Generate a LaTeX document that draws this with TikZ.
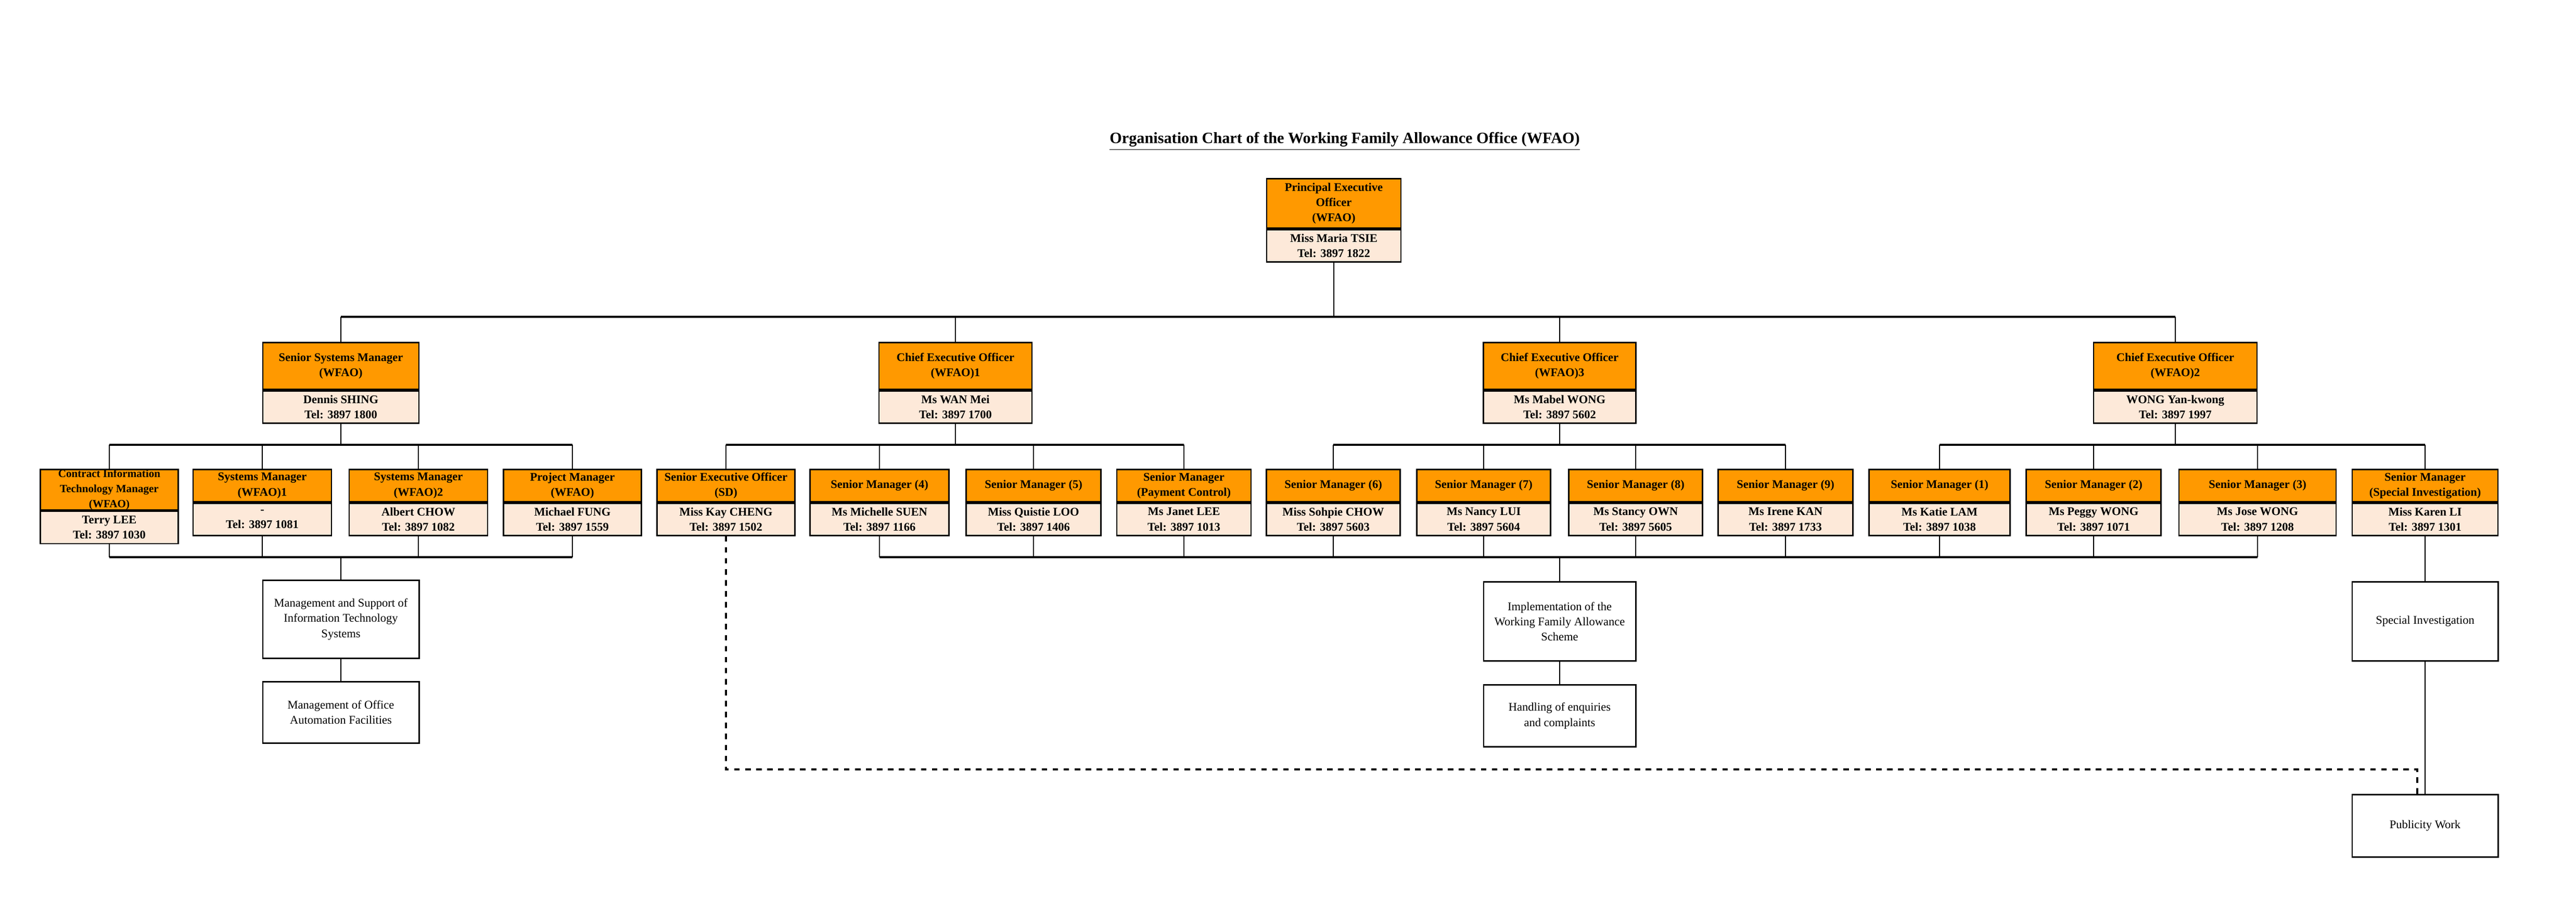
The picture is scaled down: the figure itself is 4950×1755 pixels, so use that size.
\documentclass[tikz,border=0pt]{standalone}
\usepackage{fontspec}
\setmainfont{Liberation Serif}
\usepackage{tikz}
\usetikzlibrary{positioning}

\definecolor{headorange}{RGB}{255,153,0}
\definecolor{bodypeach}{RGB}{253,233,217}

\tikzset{
  head/.style={draw, line width=0.8pt, fill=headorange, inner sep=0pt, align=center,
    font=\bfseries\fontsize{6.4}{8.3}\selectfont},
  body/.style={draw, line width=0.8pt, fill=bodypeach, inner sep=0pt, align=center,
    font=\bfseries\fontsize{6.4}{8.3}\selectfont, minimum height=0.62cm},
  task/.style={draw, line width=0.8pt, fill=white, inner sep=0pt, align=center,
    font=\fontsize{6.4}{8.3}\selectfont},
  link/.style={line width=0.4pt},
  bus/.style={line width=0.9pt},
}

% name, x, y of top, width, head height, title, person
\newcommand\post[7]{%
  \node[head, minimum width=#4*0.01cm, minimum height=#5*0.01cm, anchor=north] (#1) at (#2,#3) {#6};
  \node[body, minimum width=#4*0.01cm, anchor=north] (#1-p) at (#1.south) {#7};
}

\begin{document}
\begin{tikzpicture}[x=0.01cm, y=-0.01cm]
  \useasboundingbox (0,0) rectangle (4950,1755);

  \node[font=\bfseries\fontsize{8.6}{10}\selectfont] (title) at (2584,272)
    {\underline{Organisation Chart of the Working Family Allowance Office (WFAO)}};

  % top
  \post{peo}{2563}{342}{258}{95}{Principal Executive\\Officer\\(WFAO)}{Miss Maria TSIE\\Tel: 3897 1822}

  % second level
  \post{ssm}{655}{657}{300}{90}{Senior Systems Manager\\(WFAO)}{Dennis SHING\\Tel: 3897 1800}
  \post{ceoa}{1836}{657}{294}{90}{Chief Executive Officer\\(WFAO)1}{Ms WAN Mei\\Tel: 3897 1700}
  \post{ceoc}{2997}{657}{293}{90}{Chief Executive Officer\\(WFAO)3}{Ms Mabel WONG\\Tel: 3897 5602}
  \post{ceob}{4180}{657}{314}{90}{Chief Executive Officer\\(WFAO)2}{WONG Yan-kwong\\Tel: 3897 1997}

  % third level
  \post{citm}{210}{901}{265}{62}{\fontsize{6}{6.3}\selectfont Contract Information\\\fontsize{6}{6.3}\selectfont Technology Manager\\\fontsize{6}{6.3}\selectfont (WFAO)}{Terry LEE\\Tel: 3897 1030}
  \post{sysa}{504}{901}{266}{62}{Systems Manager\\(WFAO)1}{-\\Tel: 3897 1081}
  \post{sysb}{804}{901}{266}{62}{Systems Manager\\(WFAO)2}{Albert CHOW\\Tel: 3897 1082}
  \post{pm}{1100}{901}{265}{62}{Project Manager\\(WFAO)}{Michael FUNG\\Tel: 3897 1559}
  \post{seo}{1395}{901}{265}{62}{Senior Executive Officer\\(SD)}{Miss Kay CHENG\\Tel: 3897 1502}
  \post{smd}{1690}{901}{267}{62}{Senior Manager (4)}{Ms Michelle SUEN\\Tel: 3897 1166}
  \post{sme}{1986}{901}{259}{62}{Senior Manager (5)}{Miss Quistie LOO\\Tel: 3897 1406}
  \post{smpc}{2275}{901}{258}{62}{Senior Manager\\(Payment Control)}{Ms Janet LEE\\Tel: 3897 1013}
  \post{smf}{2562}{901}{257}{62}{Senior Manager (6)}{Miss Sohpie CHOW\\Tel: 3897 5603}
  \post{smg}{2851}{901}{257}{62}{Senior Manager (7)}{Ms Nancy LUI\\Tel: 3897 5604}
  \post{smh}{3143}{901}{257}{62}{Senior Manager (8)}{Ms Stancy OWN\\Tel: 3897 5605}
  \post{smi}{3431}{901}{259}{62}{Senior Manager (9)}{Ms Irene KAN\\Tel: 3897 1733}
  \post{sma}{3727}{901}{271}{62}{Senior Manager (1)}{Ms Katie LAM\\Tel: 3897 1038}
  \post{smb}{4023}{901}{259}{62}{Senior Manager (2)}{Ms Peggy WONG\\Tel: 3897 1071}
  \post{smc}{4338}{901}{302}{62}{Senior Manager (3)}{Ms Jose WONG\\Tel: 3897 1208}
  \post{smsi}{4660}{901}{280}{62}{Senior Manager\\(Special Investigation)}{Miss Karen LI\\Tel: 3897 1301}

  % duties
  \node[task, minimum width=3cm, minimum height=1.5cm, anchor=north] (itsys) at (655,1114)
    {Management and Support of\\Information Technology\\Systems};
  \node[task, minimum width=3cm, minimum height=1.18cm, anchor=north] (oaf) at (655,1309)
    {Management of Office\\Automation Facilities};
  \node[task, minimum width=2.92cm, minimum height=1.52cm, anchor=north] (impl) at (2997,1117)
    {Implementation of the\\Working Family Allowance\\Scheme};
  \node[task, minimum width=2.92cm, minimum height=1.19cm, anchor=north] (enq) at (2997,1315)
    {Handling of enquiries\\and complaints};
  \node[task, minimum width=2.8cm, minimum height=1.52cm, anchor=north] (sinv) at (4660,1117)
    {Special Investigation};
  \node[task, minimum width=2.8cm, minimum height=1.2cm, anchor=north] (pub) at (4660,1526)
    {Publicity Work};

  % lines between levels
  \draw[link] (peo-p.south) -- (peo-p.south |- 0,609);
  \draw[bus] (ssm.north |- 0,609) -- (ceob.north |- 0,609);
  \foreach \n in {ssm,ceoa,ceoc,ceob}
    \draw[link] (\n.north) -- (\n.north |- 0,609);

  \draw[link] (ssm-p.south) -- (ssm-p.south |- 0,855);
  \draw[bus] (citm.north |- 0,855) -- (pm.north |- 0,855);
  \draw[link] (ceoa-p.south) -- (ceoa-p.south |- 0,855);
  \draw[bus] (seo.north |- 0,855) -- (smpc.north |- 0,855);
  \draw[link] (ceoc-p.south) -- (ceoc-p.south |- 0,855);
  \draw[bus] (smf.north |- 0,855) -- (smi.north |- 0,855);
  \draw[link] (ceob-p.south) -- (ceob-p.south |- 0,855);
  \draw[bus] (sma.north |- 0,855) -- (smsi.north |- 0,855);
  \foreach \n in {citm,sysa,sysb,pm,seo,smd,sme,smpc,smf,smg,smh,smi,sma,smb,smc,smsi}
    \draw[link] (\n.north) -- (\n.north |- 0,855);

  % lines to duties
  \foreach \n in {citm,sysa,sysb,pm,smd,sme,smpc,smf,smg,smh,smi,sma,smb,smc}
    \draw[link] (\n-p.south) -- (\n-p.south |- 0,1071);
  \draw[bus] (citm-p.south |- 0,1071) -- (pm-p.south |- 0,1071);
  \draw[bus] (smd-p.south |- 0,1071) -- (smc-p.south |- 0,1071);
  \draw[link] (itsys.north |- 0,1071) -- (itsys.north);
  \draw[link] (itsys) -- (oaf);
  \draw[link] (impl.north |- 0,1071) -- (impl.north);
  \draw[link] (impl) -- (enq);
  \draw[link] (smsi-p.south) -- (sinv.north);
  \draw[link] (sinv) -- (pub);
  \draw[line width=1.2pt, dashed] (seo-p.south) |- ([xshift=-0.15cm]pub.north |- 0,1479)
    -- ([xshift=-0.15cm]pub.north);
\end{tikzpicture}
\end{document}
